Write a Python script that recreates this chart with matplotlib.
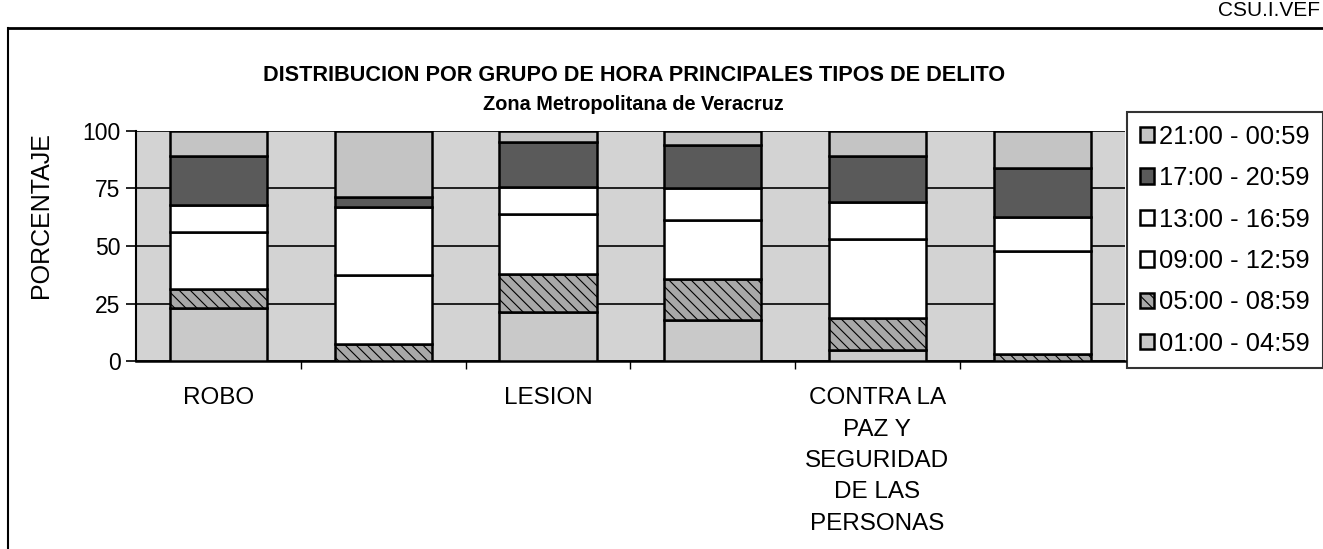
import numpy as np
import matplotlib
matplotlib.use("Agg")
import matplotlib.pyplot as plt
from matplotlib.lines import Line2D

plt.rcParams['font.family'] = ['Liberation Sans', 'DejaVu Sans']
plt.rcParams['hatch.linewidth'] = 0.8

# categories (Excel only printed every second label)
categories = ["ROBO", "", "LESION", "", "CONTRA LA\nPAZ Y\nSEGURIDAD\nDE LAS\nPERSONAS", ""]

# percentage per time group, bottom to top of each stacked bar
h01 = [23.0, 0.0, 21.5, 17.8, 4.7, 0.0]
h05 = [8.5, 7.3, 16.4, 17.9, 14.2, 2.9]
h09 = [24.5, 30.0, 25.9, 25.7, 34.2, 44.8]
h13 = [12.0, 29.6, 11.9, 13.6, 16.0, 14.9]
h17 = [21.0, 4.6, 19.6, 18.9, 20.0, 21.5]
h21 = [11.0, 28.6, 4.7, 6.1, 10.9, 15.9]

groups = ["01:00 - 04:59", "05:00 - 08:59", "09:00 - 12:59",
          "13:00 - 16:59", "17:00 - 20:59", "21:00 - 00:59"]
series = [h01, h05, h09, h13, h17, h21]
colors = ["#c9c9c9", "#a8a8a8", "white", "white", "#5a5a5a", "#c4c4c4"]
hatches = [None, "\\\\\\", None, None, None, None]

fig = plt.figure(figsize=(13.23, 5.49), dpi=100)
ax = fig.add_axes([0.1028, 0.3424, 0.7472, 0.419])
ax.set_facecolor("#d3d3d3")

x = np.arange(len(categories))
bottom = np.zeros(len(categories))
handles = []
for vals, col, hat, name in zip(series, colors, hatches, groups):
    b = ax.bar(x, vals, bottom=bottom, width=0.59, color=col, edgecolor="black",
               linewidth=1.8, hatch=hat, label=name, zorder=3)
    handles.append(b)
    bottom += np.array(vals)

ax.set_xlim(-0.5, len(categories) - 0.5)
ax.set_ylim(0, 100)
ax.set_yticks([0, 25, 50, 75, 100])
ax.yaxis.grid(True, color="black", linewidth=1.2)
ax.set_axisbelow(True)
ax.tick_params(axis="y", labelsize=16.5, length=7, width=1.2, direction="out", pad=4)

ax.set_xticks(x)
ax.set_xticklabels(categories, fontsize=17.5, linespacing=1.55, va="top")
ax.tick_params(axis="x", length=0, pad=19)
ax.set_xticks(np.arange(len(categories) - 1) + 0.5, minor=True)
ax.tick_params(axis="x", which="minor", length=6, width=1, direction="out")

for side in ["top", "right"]:
    ax.spines[side].set_visible(False)
ax.spines["left"].set_linewidth(1.5)
ax.spines["bottom"].set_linewidth(1.8)

ax.set_ylabel("PORCENTAJE", fontsize=18)
ax.yaxis.set_label_coords(-0.084, 0.635)

fig.text(0.479, 0.862, "DISTRIBUCION POR GRUPO DE HORA PRINCIPALES TIPOS DE DELITO",
         ha="center", va="center", fontsize=15.6, fontweight="bold")
fig.text(0.479, 0.81, "Zona Metropolitana de Veracruz",
         ha="center", va="center", fontsize=14.3, fontweight="bold")
fig.text(0.998, 0.998, "CSU.I.VEF", ha="right", va="top", fontsize=15)

# outer frame of the scanned page
fig.add_artist(Line2D([0.006, 1.0], [0.949, 0.949], color="black", linewidth=2))
fig.add_artist(Line2D([0.006, 0.006], [0.0, 0.949], color="black", linewidth=1.5))

leg = fig.legend(handles[::-1], groups[::-1], loc="upper left",
                 bbox_to_anchor=(0.852, 0.796), fontsize=18.4, frameon=True,
                 fancybox=False, edgecolor="black", handlelength=0.55,
                 handleheight=0.55, handletextpad=0.2, labelspacing=0.68,
                 borderpad=0.5, borderaxespad=0)
leg.get_frame().set_linewidth(1.5)

fig.savefig("out.png", dpi=100)
